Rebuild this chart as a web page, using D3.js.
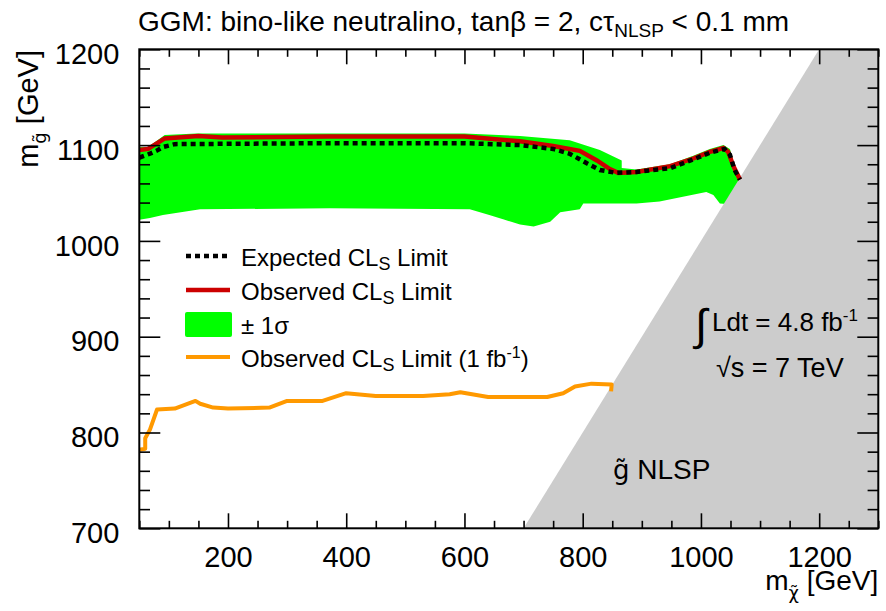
<!DOCTYPE html>
<html lang="en">
<head>
<meta charset="UTF-8">
<title>GGM bino-like neutralino</title>
<script src="https://d3js.org/d3.v7.min.js"></script>
<style>
    * { margin: 0; padding: 0; box-sizing: border-box; }
    body { background: #fff; }
    svg text { font-family: "Liberation Sans", Arial, sans-serif; fill: #000; }
    .dv { font-family: "DejaVu Sans", sans-serif; }
</style>
</head>
<body>
<div id="chart"></div>
<script>
    // [m_chi, m_gluino] in GeV
    const expected = [[50,1087],[68,1091],[79,1094],[90,1098],[110,1101],[370,1102],[600,1102],[694,1100],
        [750,1096],[778,1091],[807,1081],[829,1074],[857,1071],[891,1072],[948,1076],[987,1085],
        [1015,1092],[1040,1096],[1049,1090],[1057,1074],[1066,1064]];
    const observed = [[50,1095],[65,1096],[93,1107],[150,1109.5],[190,1108],[370,1109],[600,1109],[694,1104],
        [750,1099],[795,1094],[824,1084],[846,1075],[860,1071],[891,1072],[948,1078],[987,1086],
        [1015,1093],[1038,1097],[1046,1093],[1055,1078],[1066,1064]];
    const bandUpper = [[50,1098],[65,1098],[93,1110.5],[147,1112],[372,1112],[600,1112],[694,1109.5],
        [778,1105],[829,1095],[866,1084],[866,1076],[891,1074.5],[948,1080],[987,1089],[1015,1096],
        [1038,1100],[1049,1096],[1057,1079],[1068,1066]];
    const bandLower = [[50,1022],[68,1024],[90,1027],[153,1033],[372,1034],[609,1033],[642,1027],[668,1022],
        [694,1017],[717,1015],[745,1020],[762,1030],[795,1033],[801,1039],[891,1039],[930,1041],
        [1009,1051],[1021,1048],[1032,1039],[1043,1038.5]];
    const observed1fb = [[50,782],[60,783],[60,794],[68,803],[80,824],[110,825],[145,833],[153,830],
        [175,826],[200,825],[270,826],[300,833],[360,833],[400,841],[450,838],[530,838],[575,840],
        [593,842],[640,837],[740,837],[767,841],[787,848],[815,851],[849,850],[848,843]];
    // m_gluino = m_chi boundary, region right of it is shaded
    const nlspRegion = [[700,700],[1300,700],[1300,1200],[1200,1200]];

    const xTicks = [200, 400, 600, 800, 1000, 1200];
    const yTicks = [700, 800, 900, 1000, 1100, 1200];
    const xDomain = [50, 1300], yDomain = [700, 1200];

    const W = 886, H = 611;
    const margin = { top: 49.3, right: 7.7, bottom: 82.7, left: 139.3 },
          width = W - margin.left - margin.right,
          height = H - margin.top - margin.bottom;

    const root = d3.select("#chart").append("svg")
        .attr("width", W).attr("height", H);

    const svg = root.append("g")
        .attr("transform", `translate(${margin.left},${margin.top})`);

    const x = d3.scaleLinear().domain(xDomain).range([0, width]);
    const y = d3.scaleLinear().domain(yDomain).range([height, 0]);

    const line = d3.line().x(d => x(d[0])).y(d => y(d[1]));

    svg.append("defs").append("clipPath").attr("id", "clip")
        .append("rect").attr("width", width).attr("height", height);

    const plot = svg.append("g").attr("clip-path", "url(#clip)");

    // +-1 sigma band
    plot.append("path")
        .attr("d", line(bandUpper.concat(bandLower.slice().reverse())) + "Z")
        .attr("fill", "#00ff00");

    // gluino NLSP region
    plot.append("path")
        .attr("d", line(nlspRegion) + "Z")
        .attr("fill", "#cccccc");

    plot.append("path")
        .attr("d", line(observed1fb))
        .attr("fill", "none")
        .attr("stroke", "#ff9900")
        .attr("stroke-width", 4)
        .attr("stroke-linejoin", "round");

    plot.append("path")
        .attr("d", line(observed))
        .attr("fill", "none")
        .attr("stroke", "#cc0000")
        .attr("stroke-width", 4.5);

    plot.append("path")
        .attr("d", line(expected))
        .attr("fill", "none")
        .attr("stroke", "#000")
        .attr("stroke-width", 4.5)
        .attr("stroke-dasharray", "5,4");

    // axes: ticks inside on all four sides
    const tickStyle = g => {
        g.select(".domain").remove();
        g.selectAll("line").attr("stroke", "#000").attr("stroke-width", 1.6);
    };
    const minorX = d3.range(50, 1301, 50).filter(v => !xTicks.includes(v));
    const minorY = d3.range(700, 1201, 20).filter(v => !yTicks.includes(v));

    svg.append("g").attr("transform", `translate(0,${height})`)
        .call(d3.axisBottom(x).tickValues(xTicks).tickSize(-15).tickPadding(18).tickFormat(d3.format("d")))
        .call(tickStyle)
        .call(g => g.selectAll("text").style("font-size", "29px"));
    svg.append("g").attr("transform", `translate(0,${height})`)
        .call(d3.axisBottom(x).tickValues(minorX).tickSize(-7.5).tickFormat(""))
        .call(tickStyle);
    svg.append("g")
        .call(d3.axisTop(x).tickValues(xTicks).tickSize(-15).tickFormat(""))
        .call(tickStyle);
    svg.append("g")
        .call(d3.axisTop(x).tickValues(minorX).tickSize(-7.5).tickFormat(""))
        .call(tickStyle);

    svg.append("g")
        .call(d3.axisLeft(y).tickValues(yTicks).tickSize(-21).tickPadding(20).tickFormat(d3.format("d")))
        .call(tickStyle)
        .call(g => g.selectAll("text").style("font-size", "29px").attr("dy", "0.49em"));
    svg.append("g")
        .call(d3.axisLeft(y).tickValues(minorY).tickSize(-10.7).tickFormat(""))
        .call(tickStyle);
    svg.append("g").attr("transform", `translate(${width},0)`)
        .call(d3.axisRight(y).tickValues(yTicks).tickSize(-21).tickFormat(""))
        .call(tickStyle);
    svg.append("g").attr("transform", `translate(${width},0)`)
        .call(d3.axisRight(y).tickValues(minorY).tickSize(-10.7).tickFormat(""))
        .call(tickStyle);

    svg.append("rect")
        .attr("width", width).attr("height", height)
        .attr("fill", "none").attr("stroke", "#000").attr("stroke-width", 2);

    // axis titles
    const yLab = root.append("text")
        .attr("transform", "translate(38,50) rotate(-90)")
        .attr("text-anchor", "end")
        .style("font-size", "29px");
    yLab.append("tspan").text("m");
    yLab.append("tspan").attr("class", "dv").attr("dy", 8).style("font-size", "18px").text("g\u0303");
    yLab.append("tspan").attr("dy", -8).text(" [GeV]");

    const xLab = root.append("text")
        .attr("x", margin.left + width).attr("y", 590)
        .attr("text-anchor", "end")
        .style("font-size", "28px");
    xLab.append("tspan").text("m");
    xLab.append("tspan").attr("class", "dv").attr("dy", 9).style("font-size", "18px").text("\u03c7\u0303");
    xLab.append("tspan").attr("dy", -9).text(" [GeV]");

    // title
    const title = root.append("text")
        .attr("x", 138).attr("y", 31)
        .style("font-size", "28px");
    title.append("tspan").text("GGM: bino-like neutralino, tan\u03b2 = 2, c\u03c4");
    title.append("tspan").attr("dy", 6).style("font-size", "19px").text("NLSP");
    title.append("tspan").attr("dy", -6).text(" < 0.1 mm");

    // legend
    const legend = root.append("g");
    const legendItems = [
        { label: "Expected CL", sub: "S", tail: " Limit", y: 256 },
        { label: "Observed CL", sub: "S", tail: " Limit", y: 290 },
        { label: "\u00b1 1\u03c3", sub: "", tail: "", y: 324 },
        { label: "Observed CL", sub: "S", tail: " Limit (1 fb", sup: "-1", y: 357 }
    ];
    legend.append("line").attr("x1", 186).attr("x2", 230).attr("y1", 256).attr("y2", 256)
        .attr("stroke", "#000").attr("stroke-width", 4.5).attr("stroke-dasharray", "5,4");
    legend.append("line").attr("x1", 186).attr("x2", 230).attr("y1", 290).attr("y2", 290)
        .attr("stroke", "#cc0000").attr("stroke-width", 4.5);
    legend.append("rect").attr("x", 185).attr("y", 312).attr("width", 47).attr("height", 25)
        .attr("rx", 2).attr("fill", "#00ff00");
    legend.append("line").attr("x1", 186).attr("x2", 230).attr("y1", 357).attr("y2", 357)
        .attr("stroke", "#ff9900").attr("stroke-width", 4);

    legendItems.forEach(d => {
        const t = legend.append("text").attr("x", 241).attr("y", d.y + 10).style("font-size", "24px");
        t.append("tspan").text(d.label);
        if (d.sub) {
            t.append("tspan").attr("dy", 4).style("font-size", "18px").text(d.sub);
            t.append("tspan").attr("dy", -4).text(d.tail);
        }
        if (d.sup) {
            t.append("tspan").attr("dy", -9).style("font-size", "16px").text(d.sup);
            t.append("tspan").attr("dy", 9).text(")");
        }
    });

    // luminosity and energy
    root.append("text").attr("x", 695).attr("y", 340).style("font-size", "44px").text("\u222b");
    const lumi = root.append("text").attr("x", 712).attr("y", 331).style("font-size", "26px");
    lumi.append("tspan").text("Ldt = 4.8 fb");
    lumi.append("tspan").attr("dy", -10).style("font-size", "17px").text("-1");

    root.append("text").attr("x", 716).attr("y", 377).style("font-size", "27px").text("\u221as = 7 TeV");

    const nlsp = root.append("text").attr("x", 613).attr("y", 479).style("font-size", "28px");
    nlsp.append("tspan").attr("class", "dv").style("font-size", "26px").text("g\u0303");
    nlsp.append("tspan").text(" NLSP");
</script>
</body>
</html>
